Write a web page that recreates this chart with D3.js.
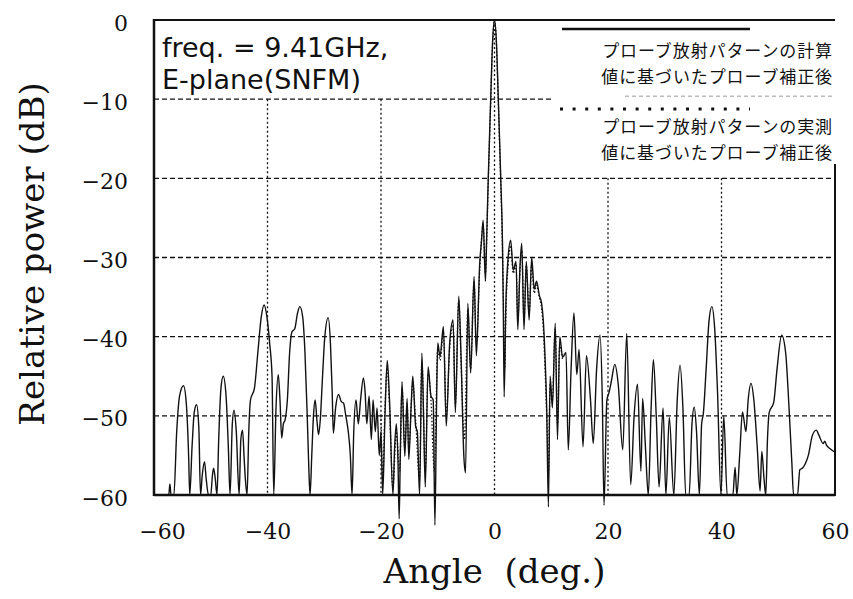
<!DOCTYPE html>
<html><head><meta charset="utf-8">
<script src="https://cdn.jsdelivr.net/npm/d3@7"></script>
<style>body{margin:0;background:#fff}</style>
</head><body>
<svg id="c" width="853" height="599"></svg>
<script>
// ---- data ----
const xTicks = [-60, -40, -20, 0, 20, 40, 60];
const yTicks = [0, -10, -20, -30, -40, -50, -60];
const legendCalc = ["プローブ放射パターンの計算", "値に基づいたプローブ補正後"];
const legendMeas = ["プローブ放射パターンの実測", "値に基づいたプローブ補正後"];
const noteLines = ["freq. = 9.41GHz,", "E-plane(SNFM)"];

// [angle (deg), relative power (dB)] — calculated-probe-pattern correction (solid)
const calcSeries = [
[-58.0,-60],[-57.4,-60],[-57.2,-58.6],[-57.0,-60],[-56.5,-60],[-56.0,-52],[-55.5,-47.5],[-54.8,-46.2],[-54.3,-48.5],[-53.9,-55],[-53.7,-60],
[-53.3,-54],[-52.9,-49.5],[-52.5,-48.6],[-52.1,-51.5],[-51.8,-60],[-51.5,-57.5],[-51.1,-55.8],[-50.8,-58],[-50.4,-60],[-50.0,-60],
[-49.7,-57.5],[-49.5,-56.6],[-49.2,-58],[-48.9,-60],[-48.6,-53],[-48.2,-46.5],[-47.8,-45.0],[-47.3,-47.5],[-46.9,-54],[-46.6,-60],
[-46.2,-51],[-45.9,-49.3],[-45.5,-52],[-45.0,-60],[-44.7,-53],[-44.4,-51.8],[-44.1,-55.6],[-43.9,-58],[-43.6,-60],[-43.3,-52],[-43.0,-48],
[-42.3,-46.5],[-41.7,-42],[-41.1,-37.5],[-40.6,-36.0],[-40.1,-37.5],[-39.6,-41],[-39.2,-45],[-38.9,-60],[-38.5,-49],[-38.1,-44.8],
[-37.8,-48],[-37.5,-52.8],[-37.2,-51],[-36.9,-50.5],[-36.5,-48],[-36.1,-42],[-35.7,-39.4],[-35.2,-39],[-34.7,-37],[-34.3,-36.2],
[-33.8,-37.5],[-33.4,-42],[-33.0,-50],[-32.7,-57],[-32.5,-60],[-32.2,-55],[-31.9,-50],[-31.6,-48],[-31.3,-50.5],[-31.0,-52.4],
[-30.7,-50.5],[-30.3,-45],[-29.9,-40],[-29.3,-37.6],[-28.9,-41],[-28.6,-47],[-28.4,-52.2],[-28.0,-49],[-27.5,-47.3],[-27.0,-48.2],
[-26.6,-48.4],[-26.2,-50],[-25.8,-51.8],[-25.4,-55],[-25.1,-60],[-24.8,-52],[-24.4,-48],[-24.0,-51],[-23.6,-48],[-23.1,-45.2],
[-22.8,-47],[-22.5,-51],[-22.1,-47.5],[-21.7,-53],[-21.4,-48],[-21.0,-52],[-20.7,-49],[-20.3,-55],[-20.0,-52],[-19.7,-60],
[-19.3,-50],[-18.9,-43],[-18.5,-48],[-17.9,-60],[-17.6,-54],[-17.3,-51],[-17.0,-56],[-16.8,-63.0],[-16.6,-55],[-16.3,-45.7],
[-15.8,-55.1],[-15.4,-47.8],[-15.1,-55.5],[-14.7,-49],[-14.4,-45],[-13.9,-51.3],[-13.6,-52],[-13.2,-60],[-12.8,-42.1],[-12.5,-50],
[-12.2,-59],[-11.7,-43.8],[-11.2,-47.5],[-10.8,-48],[-10.5,-63.8],[-10.2,-48],[-10.0,-40.8],[-9.6,-42.5],[-9.0,-38.7],[-8.5,-51.3],
[-7.9,-40.8],[-7.3,-37.9],[-6.9,-49.6],[-6.3,-34.9],[-5.9,-42.4],[-5.4,-55.1],[-5.1,-57.2],[-4.7,-35.8],[-4.2,-44.6],[-3.6,-32.4],
[-3.2,-42.4],[-2.6,-30.7],[-2.3,-28],[-2.0,-25.3],[-1.6,-33],[-1.4,-28],[-1.1,-20],[-0.67,-10],[-0.35,-3],[0,0],[0.35,-3],[0.67,-10],
[1.1,-20],[1.4,-28],[1.55,-36],[1.7,-47.6],[2.0,-36],[2.4,-30],[2.85,-27.8],[3.3,-31.6],[3.8,-30.5],[4.1,-39.1],[4.5,-31],[4.8,-28.2],
[5.2,-39.1],[5.6,-30.5],[6.1,-37.9],[6.55,-30],[7.0,-34],[7.4,-33],[7.9,-34.8],[8.3,-35.8],[8.6,-38],[8.9,-42.5],[9.2,-49.2],[9.5,-61.5],
[9.8,-45],[10.2,-49],[10.7,-38.3],[11.1,-53],[11.5,-40],[12.0,-42.6],[12.6,-42],[13.0,-54.3],[13.5,-44],[14.0,-37.0],[14.5,-44.8],
[14.9,-41.6],[15.6,-53.9],[16.2,-42.4],[16.9,-47.8],[17.4,-53.5],[18.0,-44],[18.6,-39.8],[19.0,-48],[19.3,-61.3],[19.8,-48],[20.2,-47],
[20.6,-45.6],[21.2,-43.5],[21.8,-46],[22.6,-54.3],[23.3,-39.6],[24.0,-58.7],[24.6,-50],[25.2,-46],[25.8,-57],[26.1,-47.8],[26.6,-54],
[27.1,-60],[27.6,-49],[28.0,-42.9],[28.5,-50],[29.0,-59],[29.7,-49],[30.2,-60],[30.8,-50.2],[31.6,-60],[32.2,-48],[32.7,-43.6],
[33.2,-49],[33.7,-60],[34.3,-60],[34.8,-51],[35.2,-48.9],[35.6,-52],[36.1,-60],[36.5,-51],[36.8,-49.7],[37.3,-44],[37.8,-38],
[38.3,-36.2],[38.8,-39],[39.3,-47],[39.9,-60],[40.4,-50],[41.0,-60],[42.0,-60],[42.4,-56.5],[42.7,-60],[43.2,-55],[43.7,-49.5],
[44.3,-52],[44.7,-48],[45.2,-45.9],[45.7,-48],[46.3,-54],[46.8,-59.5],[47.1,-54.5],[47.5,-58],[47.8,-60],[48.1,-53],[48.4,-49.6],
[49.2,-48.3],[49.8,-44],[50.6,-39.8],[51.3,-42],[51.9,-49],[52.4,-56],[52.7,-60],[53.4,-60],[53.8,-56.8],[54.3,-56.6],[54.8,-56],
[55.3,-55],[56.0,-52.5],[56.7,-51.8],[57.2,-52.5],[57.9,-53.5],[58.2,-53.2],[58.5,-53.7],[59.2,-54.2],[60,-54.6]
];

// measured-probe-pattern correction (dotted)
const measSeries = [
[-20.0,-50],[-19.7,-58],[-19.3,-49],[-18.9,-44],[-18.5,-49],[-17.9,-59],[-17.3,-52],[-16.7,-57],[-16.3,-46.5],[-15.8,-54],
[-15.4,-48.5],[-15.1,-54],[-14.4,-46],[-13.9,-50.5],[-13.2,-58],[-12.8,-43],[-12.2,-57],[-11.7,-44.5],[-11.2,-48],[-10.6,-57],
[-10.0,-41.5],[-9.6,-43],[-9.0,-39.5],[-8.5,-50],[-7.9,-41.5],[-7.3,-38.5],[-6.9,-48.5],[-6.3,-35.5],[-5.9,-43],[-5.3,-53],
[-4.7,-36.5],[-4.2,-44],[-3.6,-33],[-3.2,-41],[-2.6,-31.5],[-2.0,-26],[-1.6,-32],[-1.4,-28.5],[-1.1,-20.5],[-0.67,-10.3],
[-0.35,-3.2],[0,0],[0.35,-3.2],[0.67,-10.3],[1.1,-20.5],[1.4,-28.5],[1.6,-37],[1.8,-44],[2.0,-37],[2.4,-31],[2.85,-28.5],
[3.3,-32],[3.8,-31],[4.1,-38],[4.5,-31.5],[4.8,-29],[5.2,-38],[5.6,-31],[6.1,-37],[6.55,-31],[7.0,-34.5],[7.4,-33.5],[7.9,-35],
[8.3,-36.5],[8.6,-39],[8.9,-44],[9.2,-50],[9.5,-57],[9.8,-46],[10.2,-48],[10.7,-39],[11.1,-51],[11.5,-41],[12.0,-43]
];

// ---- drawing ----
const L = 154, R = 835, T = 20, B = 495;
const svg = d3.select("#c");
const x = d3.scaleLinear().domain([-60, 60]).range([L, R]);
const y = d3.scaleLinear().domain([-60, 0]).range([B, T]);
const ink = "#111";

// gridlines
const g = svg.append("g");
yTicks.filter(v => v > -60 && v < 0).forEach(v => {
  g.append("line").attr("x1", L).attr("x2", R).attr("y1", y(v)).attr("y2", y(v))
   .attr("stroke", ink).attr("stroke-width", 1.3).attr("stroke-dasharray", "5,3");
});
const vStart = {"-40": -10, "-20": -10, "0": 0, "20": -20, "40": -20};
xTicks.filter(v => v > -60 && v < 60).forEach(v => {
  g.append("line").attr("x1", x(v)).attr("x2", x(v)).attr("y1", y(vStart[v])).attr("y2", B)
   .attr("stroke", ink).attr("stroke-width", 1.3).attr("stroke-dasharray", "2,2.5");
});

// legend box (white) with faint gridline
svg.append("rect").attr("x", 552).attr("y", T + 2).attr("width", R - 552).attr("height", 150).attr("fill", "#fff");
svg.append("line").attr("x1", 625).attr("x2", R).attr("y1", y(-10) - 3).attr("y2", y(-10) - 3)
  .attr("stroke", "#999").attr("stroke-width", 1).attr("stroke-dasharray", "4,3");

// series
const line = d3.line().x(d => x(d[0])).y(d => y(d[1])).curve(d3.curveMonotoneX);
svg.append("path").datum(measSeries).attr("d", line).attr("fill", "none")
  .attr("stroke", ink).attr("stroke-width", 1.3).attr("stroke-dasharray", "1.5,2");
svg.append("path").datum(calcSeries).attr("d", line).attr("fill", "none")
  .attr("stroke", ink).attr("stroke-width", 1.4).attr("stroke-linejoin", "round");

// frame
svg.append("line").attr("x1", L).attr("x2", R).attr("y1", T).attr("y2", T).attr("stroke", ink).attr("stroke-width", 2);
svg.append("line").attr("x1", L).attr("x2", L).attr("y1", T - 1).attr("y2", B + 1).attr("stroke", ink).attr("stroke-width", 2.5);
svg.append("line").attr("x1", L).attr("x2", R).attr("y1", B).attr("y2", B).attr("stroke", ink).attr("stroke-width", 2.5);
svg.append("line").attr("x1", R).attr("x2", R).attr("y1", 164).attr("y2", B + 1).attr("stroke", ink).attr("stroke-width", 2);

// axes
const serif = "'DejaVu Serif', serif";
const ax = svg.append("g").attr("transform", `translate(0,${B})`)
  .call(d3.axisBottom(x).tickValues(xTicks).tickSize(0).tickPadding(0));
ax.select(".domain").remove();
ax.selectAll("text").attr("font-family", serif).attr("font-size", 22).attr("fill", ink)
  .attr("dy", null).attr("y", 44).attr("dx", d => d === -60 ? 8 : 0);
const ay = svg.append("g").attr("transform", `translate(${L},0)`)
  .call(d3.axisLeft(y).tickValues(yTicks).tickSize(0).tickPadding(0));
ay.select(".domain").remove();
ay.selectAll("text").attr("font-family", serif).attr("font-size", 22).attr("fill", ink)
  .attr("x", -26).attr("dy", null).attr("y", 10).attr("text-anchor", "end");

// axis titles
svg.append("text").attr("x", (L + R) / 2).attr("y", 583).attr("text-anchor", "middle")
  .attr("font-family", serif).attr("font-size", 34).attr("fill", ink).attr("xml:space", "preserve")
  .text("Angle  (deg.)");
svg.append("text").attr("transform", "translate(44,254) rotate(-90)").attr("text-anchor", "middle")
  .attr("font-family", serif).attr("font-size", 34).attr("fill", ink).text("Relative power (dB)");

// annotation
noteLines.forEach((t, i) => {
  svg.append("text").attr("x", 162).attr("y", 57 + i * 32).attr("font-family", "'DejaVu Sans', sans-serif")
    .attr("font-size", 27).attr("fill", ink).text(t);
});

// legend
svg.append("line").attr("x1", 562).attr("x2", 750).attr("y1", 29).attr("y2", 29).attr("stroke", ink).attr("stroke-width", 2.6);
svg.append("line").attr("x1", 560).attr("x2", 750).attr("y1", 109).attr("y2", 109).attr("stroke", ink)
  .attr("stroke-width", 3).attr("stroke-dasharray", "3,9.6");
const cjk = "'Noto Sans CJK JP', sans-serif";
legendCalc.forEach((t, i) => {
  svg.append("text").attr("x", 833).attr("y", 57 + i * 26).attr("text-anchor", "end").attr("font-family", cjk)
    .attr("font-size", 17).attr("letter-spacing", 0.9).attr("fill", ink).text(t);
});
legendMeas.forEach((t, i) => {
  svg.append("text").attr("x", 833).attr("y", 133 + i * 26).attr("text-anchor", "end").attr("font-family", cjk)
    .attr("font-size", 17).attr("letter-spacing", 0.9).attr("fill", ink).text(t);
});
</script>
</body></html>
